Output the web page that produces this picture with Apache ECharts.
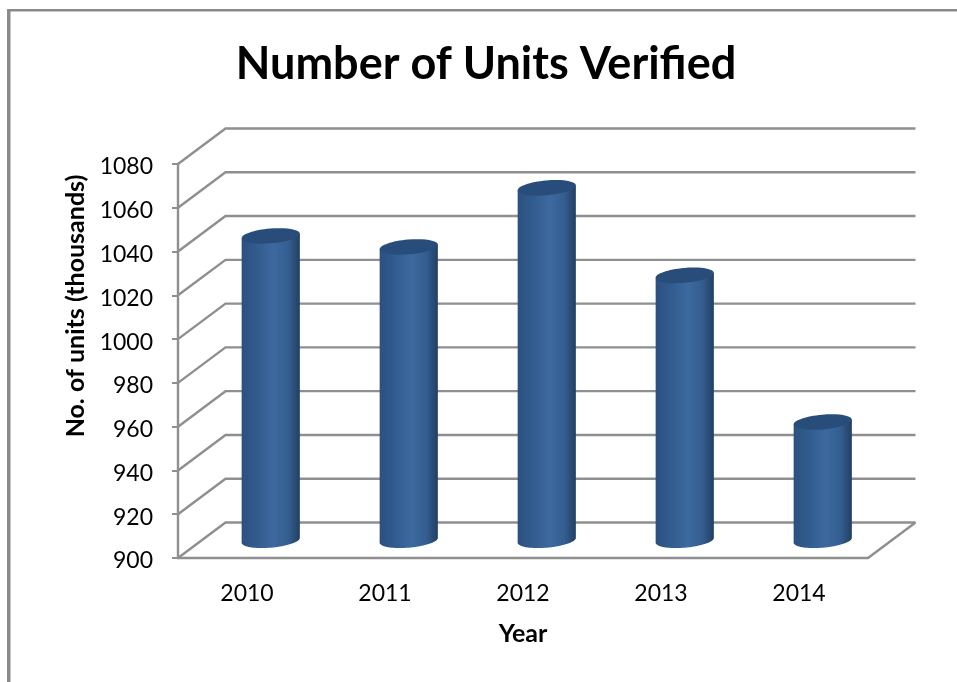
<!DOCTYPE html>
<html>
<head>
<meta charset="utf-8">
<style>
  html, body { margin: 0; padding: 0; background: #fff; }
  #chart { width: 957px; height: 682px; }
</style>
<script src="https://cdn.jsdelivr.net/npm/echarts@6/dist/echarts.min.js"></script>
</head>
<body>
<div id="chart"></div>
<script>
const years = ["2010", "2011", "2012", "2013", "2014"];
const unitsVerified = [1039, 1034, 1061, 1021, 954];
const yTicks = [900, 920, 940, 960, 980, 1000, 1020, 1040, 1060, 1080];

const DEPTH_X = 47.5;
const DEPTH_Y = -35.5;
const GRAY = "#8f8f8f";
const FONT = "Lato";

const chart = echarts.init(document.getElementById("chart"));

// the 3d walls: one line per tick, front edge to back edge and along the back
function renderWall(params, api) {
  const cs = params.coordSys;
  const y = api.coord([0, api.value(0)])[1];
  const x0 = cs.x;
  const x1 = cs.x + cs.width;
  const children = [{
    type: "polyline",
    shape: { points: [[x0, y], [x0 + DEPTH_X, y + DEPTH_Y], [x1 + DEPTH_X, y + DEPTH_Y]] },
    style: { stroke: GRAY, lineWidth: 2.4, fill: null },
  }];
  // floor closes on the right side
  if (params.dataIndex === 0) {
    children.push({
      type: "line",
      shape: { x1: x1, y1: y, x2: x1 + DEPTH_X, y2: y + DEPTH_Y },
      style: { stroke: GRAY, lineWidth: 2.4 },
    });
  }
  return { type: "group", children };
}

// tilted ellipse point, t in radians
function ellipsePoint(cx, cy, rx, ry, tilt, t) {
  return [
    cx + rx * Math.cos(t) * Math.cos(tilt) + ry * Math.sin(t) * Math.sin(tilt),
    cy - rx * Math.cos(t) * Math.sin(tilt) + ry * Math.sin(t) * Math.cos(tilt),
  ];
}

function renderCylinder(params, api) {
  const top = api.coord([api.value(0), api.value(1)]);
  const base = api.coord([api.value(0), yTicks[0]]);
  const cx = top[0] + DEPTH_X / 2;
  const topY = top[1] + DEPTH_Y / 2;
  const baseY = base[1] + DEPTH_Y / 2;
  const rx = 29.2;
  const ry = 7.4;
  const tilt = 5 * Math.PI / 180;
  const t0 = Math.atan2(ry * Math.sin(tilt), rx * Math.cos(tilt));

  const points = [];
  for (let i = 0; i <= 40; i++) {
    points.push(ellipsePoint(cx, baseY, rx, ry, tilt, t0 + Math.PI * i / 40));
  }
  points.reverse();
  points.unshift(ellipsePoint(cx, topY, rx, ry, tilt, t0 + Math.PI));
  points.push(ellipsePoint(cx, topY, rx, ry, tilt, t0));
  // order above: top-left, then the bottom arc from left round to right, top-right

  const side = new echarts.graphic.LinearGradient(0, 0, 1, 0, [
    { offset: 0, color: "#2c5080" },
    { offset: 0.2, color: "#30598b" },
    { offset: 0.55, color: "#3c699f" },
    { offset: 0.8, color: "#345e90" },
    { offset: 1, color: "#223f63" },
  ]);

  return {
    type: "group",
    children: [
      { type: "polygon", shape: { points }, style: { fill: side } },
      {
        type: "ellipse",
        shape: { cx: 0, cy: 0, rx, ry },
        x: cx,
        y: topY,
        rotation: tilt,
        style: { fill: "#294d7b" },
      },
    ],
  };
}

chart.setOption({
  animation: false,
  backgroundColor: "#ffffff",
  title: {
    text: "Number of Units Verified",
    left: 481,
    top: 37,
    textAlign: "center",
    textStyle: { fontFamily: FONT, fontSize: 45, fontWeight: "bold", color: "#000" },
  },
  grid: { left: 178, right: 89, top: 164, bottom: 124 },
  xAxis: {
    type: "category",
    data: years,
    name: "Year",
    nameLocation: "middle",
    nameGap: 63,
    nameTextStyle: { fontFamily: FONT, fontSize: 25, fontWeight: "bold", color: "#000" },
    axisLine: { lineStyle: { color: GRAY, width: 2.4 } },
    axisTick: { show: false },
    axisLabel: { fontFamily: FONT, fontSize: 23, color: "#000", margin: 24 },
  },
  yAxis: {
    type: "value",
    min: 900,
    max: 1080,
    interval: 20,
    name: "No. of units (thousands)",
    nameLocation: "middle",
    nameGap: 90,
    nameTextStyle: { fontFamily: FONT, fontSize: 25, fontWeight: "bold", color: "#000", padding: [0, 0, 0, 110] },
    axisLine: { show: true, lineStyle: { color: GRAY, width: 2.4 } },
    axisTick: { show: true, length: 6, lineStyle: { color: GRAY, width: 2 } },
    axisLabel: {
      margin: 25,
      formatter: (v) => "{tick|" + v + "}",
      // pushes the numbers down a little, they sit just under the tick in the original
      rich: { tick: { fontFamily: FONT, fontSize: 23, color: "#000", padding: [6, 0, 0, 0] } },
    },
    splitLine: { show: false },
  },
  graphic: [
    { type: "rect", shape: { x: 7, y: 9, width: 950, height: 2.5 }, style: { fill: "#8a8a8a" } },
    { type: "rect", shape: { x: 7, y: 9, width: 3.5, height: 673 }, style: { fill: "#8a8a8a" } },
  ],
  series: [
    {
      type: "custom",
      coordinateSystem: "cartesian2d",
      renderItem: renderWall,
      data: yTicks.map((v) => [v]),
      encode: { y: 0 },
      silent: true,
      z: 1,
    },
    {
      type: "custom",
      coordinateSystem: "cartesian2d",
      renderItem: renderCylinder,
      data: unitsVerified.map((v, i) => [i, v]),
      encode: { x: 0, y: 1 },
      z: 5,
    },
  ],
});
</script>
</body>
</html>
